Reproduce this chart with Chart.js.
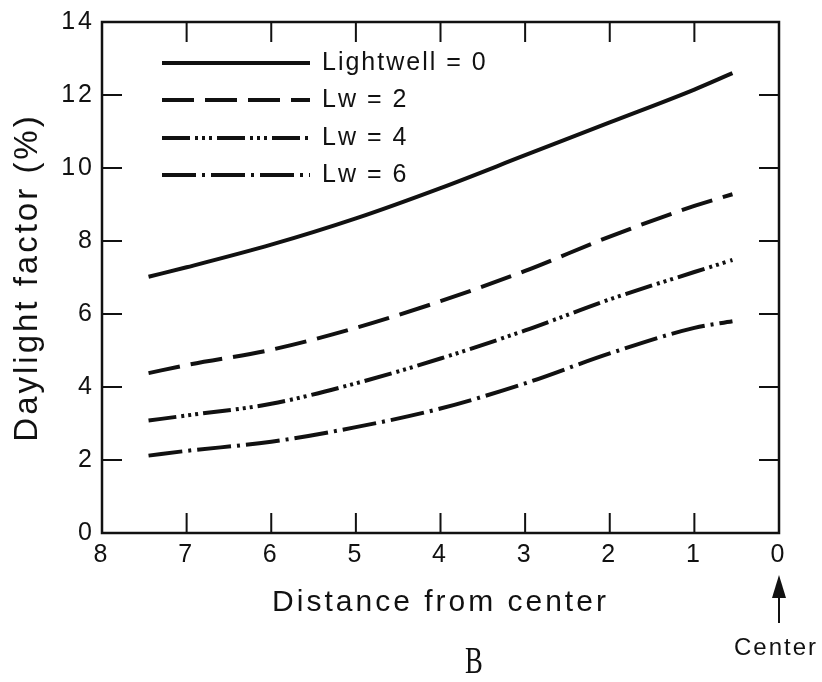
<!DOCTYPE html>
<html>
<head>
<meta charset="utf-8">
<script src="https://cdn.jsdelivr.net/npm/chart.js@4.4.1/dist/chart.umd.min.js"></script>
<style>
  body { margin: 0; background: #fff; }
  #wrap { width: 822px; height: 682px; }
</style>
</head>
<body>
<div id="wrap"><canvas id="daylight"></canvas></div>
<script>
// distance from center (x axis runs 8 -> 0)
var distance = [7.45, 7, 6, 5, 4, 3, 2, 1, 0.55];
var lw0 = [7.02, 7.28, 7.9, 8.62, 9.45, 10.35, 11.25, 12.15, 12.6];
var lw2 = [4.38, 4.6, 5.02, 5.62, 6.35, 7.18, 8.12, 8.96, 9.28];
var lw4 = [3.08, 3.22, 3.54, 4.1, 4.78, 5.55, 6.4, 7.15, 7.48];
var lw6 = [2.12, 2.25, 2.5, 2.9, 3.41, 4.1, 4.92, 5.62, 5.8];
var seriesLabels = ['Lightwell = 0', 'Lw = 2', 'Lw = 4', 'Lw = 6'];
var dashes = [[], [32, 11], [28, 5, 3, 4, 3, 4, 3, 5], [34, 6, 3, 6]];

var FONT = '"Liberation Sans", Arial, Helvetica, sans-serif';
var INK = '#111';
var TICK = 20;

function pts(ys) {
    return distance.map(function (d, i) { return {x: d, y: ys[i]}; });
}

var datasets = [lw0, lw2, lw4, lw6].map(function (ys, i) {
    return {
        label: seriesLabels[i],
        data: pts(ys),
        borderColor: INK,
        borderWidth: 4,
        borderDash: dashes[i],
        borderCapStyle: 'butt',
        borderJoinStyle: 'round',
        cubicInterpolationMode: 'monotone',
        pointRadius: 0,
        fill: false
    };
});

// box around plot with inward ticks on all four sides
var frame = {
    id: 'frame',
    beforeDraw: function (chart) {
        chart.ctx.letterSpacing = '3px';
    },
    afterDraw: function (chart) {
        var ctx = chart.ctx, a = chart.chartArea;
        var x = chart.scales.x, y = chart.scales.y;
        ctx.save();
        ctx.letterSpacing = '0px';
        ctx.strokeStyle = INK;
        ctx.lineWidth = 2.5;
        ctx.strokeRect(a.left, a.top, a.right - a.left, a.bottom - a.top);
        ctx.lineWidth = 2;
        ctx.beginPath();
        x.ticks.forEach(function (t) {
            if (t.value <= x.min || t.value >= x.max) return;
            var px = x.getPixelForValue(t.value);
            ctx.moveTo(px, a.bottom); ctx.lineTo(px, a.bottom - TICK);
            ctx.moveTo(px, a.top); ctx.lineTo(px, a.top + TICK);
        });
        y.ticks.forEach(function (t) {
            if (t.value <= y.min || t.value >= y.max) return;
            var py = y.getPixelForValue(t.value);
            ctx.moveTo(a.left, py); ctx.lineTo(a.left + TICK, py);
            ctx.moveTo(a.right, py); ctx.lineTo(a.right - TICK, py);
        });
        ctx.stroke();

        // legend inside the plot, top left
        ctx.letterSpacing = '2px';
        ctx.font = '25px ' + FONT;
        ctx.fillStyle = INK;
        ctx.textBaseline = 'middle';
        var rowY = [63, 100, 138, 175];
        chart.data.datasets.forEach(function (ds, i) {
            ctx.setLineDash(ds.borderDash);
            ctx.lineWidth = 4;
            ctx.beginPath();
            ctx.moveTo(a.left + 60, rowY[i]);
            ctx.lineTo(a.left + 208, rowY[i]);
            ctx.stroke();
            ctx.fillText(ds.label, a.left + 220, rowY[i]);
        });
        ctx.setLineDash([]);

        // arrow pointing at the center (x = 0)
        var cx = x.getPixelForValue(0);
        ctx.lineWidth = 2;
        ctx.beginPath();
        ctx.moveTo(cx, 623); ctx.lineTo(cx, 592);
        ctx.stroke();
        ctx.beginPath();
        ctx.moveTo(cx, 575); ctx.lineTo(cx - 7, 598); ctx.lineTo(cx + 7, 598);
        ctx.closePath();
        ctx.fill();
        ctx.letterSpacing = '2px';
        ctx.font = '24px ' + FONT;
        ctx.textAlign = 'center';
        ctx.fillText('Center', cx - 3, 648);

        // panel letter
        ctx.letterSpacing = '0px';
        ctx.translate(474, 663);
        ctx.scale(0.72, 1);
        ctx.font = '37px "Liberation Serif", "Times New Roman", serif';
        ctx.fillText('B', 0, 0);
        ctx.restore();
    }
};

new Chart(document.getElementById('daylight'), {
    type: 'line',
    data: { datasets: datasets },
    plugins: [frame],
    options: {
        responsive: true,
        maintainAspectRatio: false,
        animation: false,
        layout: { padding: { left: 0, top: 20, right: 43, bottom: 57 } },
        plugins: {
            legend: { display: false },
            tooltip: { enabled: false }
        },
        scales: {
            x: {
                type: 'linear',
                reverse: true,
                min: 0,
                max: 8,
                afterFit: function (s) { s.height = 92; },
                grid: { display: false, drawTicks: false },
                border: { display: false },
                ticks: {
                    stepSize: 1,
                    padding: 7,
                    color: INK,
                    font: { family: FONT, size: 25 }
                },
                title: {
                    display: true,
                    text: 'Distance from center',
                    color: INK,
                    font: { family: FONT, size: 30 },
                    padding: { top: 0, bottom: 4 }
                }
            },
            y: {
                min: 0,
                max: 14,
                afterFit: function (s) { s.width = 102; },
                grid: { display: false, drawTicks: false },
                border: { display: false },
                ticks: {
                    stepSize: 2,
                    padding: 7,
                    color: INK,
                    font: { family: FONT, size: 25 }
                },
                title: {
                    display: true,
                    text: 'Daylight factor (%)',
                    color: INK,
                    font: { family: FONT, size: 33 },
                    padding: { top: 8, bottom: 0 }
                }
            }
        }
    }
});
</script>
</body>
</html>
